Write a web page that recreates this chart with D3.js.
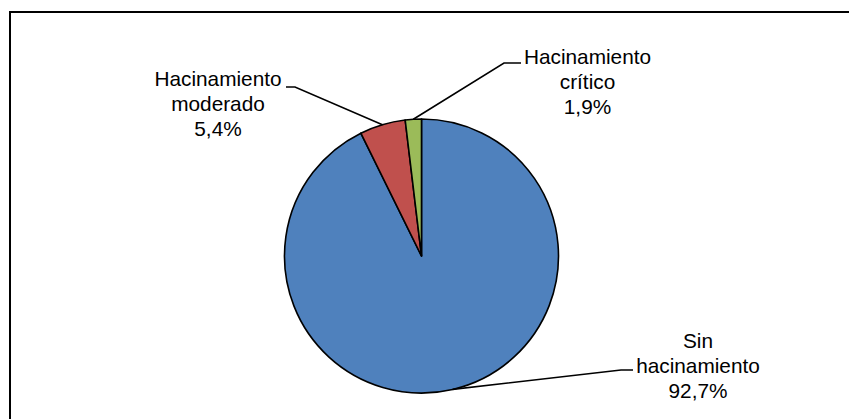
<!DOCTYPE html>
<html>
  <head>
    <meta charset="utf-8">
    <title>Hacinamiento</title>
    <script type="text/javascript" src="https://d3js.org/d3.v7.min.js"></script>
    <style>
      body {
        margin: 0;
        background: #fff;
      }
      .label {
        font-family: "Liberation Sans", Arial, sans-serif;
        font-size: 20.8px;
        fill: #000;
      }
    </style>
  </head>
  <body>
    <div id="chart"></div>
    <script type="text/javascript">
      // data
      var categories = ['Sin hacinamiento', 'Hacinamiento moderado', 'Hacinamiento crítico'];
      var values = [92.7, 5.4, 1.9];
      var valueLabels = ['92,7%', '5,4%', '1,9%'];
      var labelLines = [
        ['Sin', 'hacinamiento'],
        ['Hacinamiento', 'moderado'],
        ['Hacinamiento', 'crítico']
      ];

      var width = 849;
      var height = 419;
      var radius = 137;
      var cx = 421.5, cy = 256;
      var lineHeight = 24.8;

      var color = d3.scaleOrdinal()
        .domain(categories)
        .range(['#4f81bd', '#c0504d', '#9bbb59']);

      // label layout: centre x, first baseline y, elbow of leader line
      var labelPos = [
        { x: 698, y: 348, elbow: [633, 370], end: [621, 370] },
        { x: 218, y: 86, elbow: [286, 87], end: [295, 87] },
        { x: 587.5, y: 64, elbow: [521, 63], end: [504, 63] }
      ];

      var svg = d3.select('#chart')
        .append('svg')
        .attr('width', width)
        .attr('height', height);

      // outer frame (runs off the right and bottom)
      svg.append('rect')
        .attr('x', 10)
        .attr('y', 12)
        .attr('width', 900)
        .attr('height', 450)
        .attr('fill', 'none')
        .attr('stroke', '#000')
        .attr('stroke-width', 2);

      var g = svg.append('g')
        .attr('transform', 'translate(' + cx + ',' + cy + ')');

      var pie = d3.pie()
        .value(function(d) { return d; })
        .sort(null);

      var arc = d3.arc()
        .innerRadius(0)
        .outerRadius(radius);

      var edgeArc = d3.arc()
        .innerRadius(radius)
        .outerRadius(radius);

      var arcs = pie(values);

      g.selectAll('path.slice')
        .data(arcs)
        .enter()
        .append('path')
        .attr('class', 'slice')
        .attr('d', arc)
        .attr('fill', function(d, i) { return color(categories[i]); })
        .attr('stroke', '#000')
        .attr('stroke-width', 1.6)
        .attr('stroke-linejoin', 'round');

      // leader lines
      svg.selectAll('polyline.leader')
        .data(arcs)
        .enter()
        .append('polyline')
        .attr('class', 'leader')
        .attr('fill', 'none')
        .attr('stroke', '#000')
        .attr('stroke-width', 1.6)
        .attr('points', function(d, i) {
          var c = edgeArc.centroid(d);
          var p = labelPos[i];
          return [[c[0] + cx, c[1] + cy], p.end, p.elbow].join(' ');
        });

      // labels
      var labels = svg.selectAll('text.label')
        .data(arcs)
        .enter()
        .append('text')
        .attr('class', 'label')
        .attr('text-anchor', 'middle')
        .attr('x', function(d, i) { return labelPos[i].x; })
        .attr('y', function(d, i) { return labelPos[i].y; });

      labels.each(function(d, i) {
        var t = d3.select(this);
        var lines = labelLines[i].concat([valueLabels[i]]);
        lines.forEach(function(s, k) {
          t.append('tspan')
            .attr('x', labelPos[i].x)
            .attr('y', labelPos[i].y + k * lineHeight)
            .text(s);
        });
      });
    </script>
  </body>
</html>
